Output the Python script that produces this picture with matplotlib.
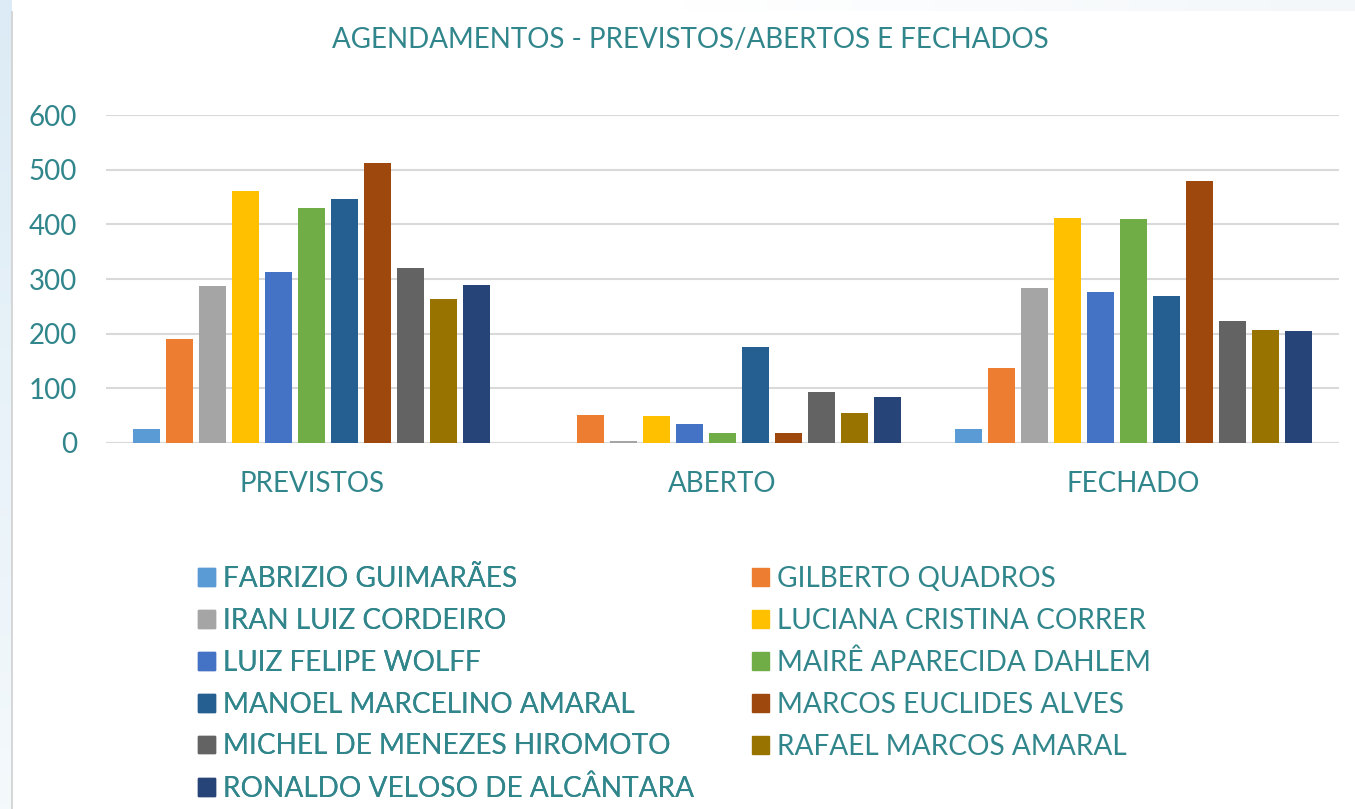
import numpy as np
import matplotlib
matplotlib.use("Agg")
import matplotlib.pyplot as plt
from matplotlib.patches import Patch

plt.rcParams['font.family'] = ['Lato', 'DejaVu Sans']

categories = ["PREVISTOS", "ABERTO", "FECHADO"]
names = ["FABRIZIO GUIMARÃES", "GILBERTO QUADROS", "IRAN LUIZ CORDEIRO",
         "LUCIANA CRISTINA CORRER", "LUIZ FELIPE WOLFF", "MAIRÊ APARECIDA DAHLEM",
         "MANOEL MARCELINO AMARAL", "MARCOS EUCLIDES ALVES",
         "MICHEL DE MENEZES HIROMOTO", "RAFAEL MARCOS AMARAL",
         "RONALDO VELOSO DE ALCÂNTARA"]
previstos = [26, 190, 287, 461, 313, 430, 446, 512, 320, 263, 289]
aberto = [0, 51, 4, 50, 35, 19, 176, 19, 94, 55, 84]
fechado = [26, 137, 284, 412, 276, 410, 269, 479, 223, 207, 205]
yticks = [0, 100, 200, 300, 400, 500, 600]
colors = ["#5B9BD5", "#ED7D31", "#A5A5A5", "#FFC000", "#4472C4", "#70AD47",
          "#255E91", "#9E480E", "#636363", "#997300", "#264478"]

teal = "#31868C"
W, H = 1355, 809
fig = plt.figure(figsize=(W / 100, H / 100), dpi=100)
fig.patch.set_facecolor("white")

# subtle left gradient strip
bg = fig.add_axes([0, 0, 12 / W, 1])
grad = np.linspace(0, 1, 256).reshape(-1, 1)
bg.imshow(grad, aspect="auto", cmap=matplotlib.colors.LinearSegmentedColormap.from_list(
    "g", ["#DCEBF5", "#F4F9FC"]), extent=[0, 1, 0, 1])
bg.axis("off")
# subtle top gradient strip
tg = fig.add_axes([12 / W, 1 - 11 / H, 1 - 12 / W, 11 / H])
tg.imshow(np.linspace(0, 1, 256).reshape(1, -1), aspect="auto",
          cmap=matplotlib.colors.LinearSegmentedColormap.from_list(
              "t", ["#FFFFFF", "#FFFFFF", "#F3F7FA"]), extent=[0, 1, 0, 1])
tg.axis("off")
fig.add_artist(plt.Line2D([12 / W, 12 / W], [0, 1 - 12 / H], color="#D0D0D0", lw=1.2))

ax = fig.add_axes([106 / W, 1 - 443 / H, 1233 / W, 328 / H])
data = np.array([previstos, aberto, fechado])
n = len(names)
x = np.arange(len(categories))
step = 0.0803
width = 0.064
for i in range(n):
    off = (i - (n - 1) / 2) * step
    ax.bar(x + off, data[:, i], width=width, color=colors[i],
           linewidth=0, zorder=3, label=names[i])

ax.set_xlim(-0.5, 2.5)
ax.set_ylim(0, 600)
ax.set_yticks(yticks)
ax.set_yticklabels([str(v) for v in yticks])
ax.grid(axis="y", color="#D9D9D9", lw=1.5, zorder=0)
for s in ax.spines.values():
    s.set_visible(False)
ax.axhline(0, color="#D9D9D9", lw=1.5, zorder=2)
ax.tick_params(axis="both", length=0, colors=teal, labelsize=20)
ax.tick_params(axis="y", pad=21)
ax.tick_params(axis="x", pad=20)
ax.set_xticks(x)
ax.set_xticklabels(categories)
ax.set_axisbelow(True)

fig.text(690 / W, 1 - 40 / H, "AGENDAMENTOS - PREVISTOS/ABERTOS E FECHADOS",
         ha="center", va="center", color=teal, fontsize=20)

# legend: two columns, row-wise order
left_idx = list(range(0, n, 2))
right_idx = list(range(1, n, 2))
common = dict(frameon=False, fontsize=20.2, labelcolor=teal, handlelength=0.6,
              handleheight=0.6, handletextpad=0.3, labelspacing=0.565,
              borderpad=0, borderaxespad=0, loc="upper left")
leg1 = fig.legend([Patch(color=colors[i]) for i in left_idx],
                  [names[i] for i in left_idx],
                  bbox_to_anchor=(198 / W, 1 - 566 / H), **common)
fig.add_artist(leg1)
leg2 = fig.legend([Patch(color=colors[i]) for i in right_idx],
                  [names[i] for i in right_idx],
                  bbox_to_anchor=(752 / W, 1 - 566 / H), **common)

fig.savefig("out.png", dpi=100, facecolor="white")
